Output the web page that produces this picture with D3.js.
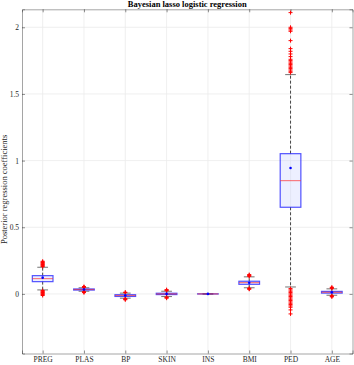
<!DOCTYPE html>
<html><head><meta charset="utf-8">
<script src="https://cdn.jsdelivr.net/npm/d3@7"></script>
<style>body{margin:0;background:#fff}svg{display:block;font-family:"Liberation Serif","DejaVu Serif",serif}</style>
</head><body><svg id="c" width="354" height="365"></svg>
<script>
const categories = ["PREG","PLAS","BP","SKIN","INS","BMI","PED","AGE"];
const q1      = [0.092, 0.029, -0.019, -0.005, -0.0006, 0.072, 0.65, 0.006];
const median  = [0.115, 0.033, -0.012,  0.000,  0.0000, 0.085, 0.85, 0.012];
const q3      = [0.137, 0.037, -0.006,  0.005,  0.0006, 0.095, 1.052, 0.019];
const means   = [0.122, 0.033, -0.012,  0.000,  0.0000, 0.084, 0.945, 0.012];
const whiskLo = [0.030, 0.020, -0.032, -0.020, -0.002, 0.046, 0.052, -0.010];
const whiskHi = [0.200, 0.046,  0.006,  0.020,  0.002, 0.128, 1.645, 0.038];
const outliers = [
  [0.205,0.21,0.215,0.22,0.225,0.23,0.235,0.24,0.245, 0.025,0.02,0.015,0.01,0.005,0.0,-0.005,-0.012],
  [0.05,0.052,0.055,0.016,0.013,0.01],
  [0.01,0.013,-0.036,-0.04,-0.044],
  [0.024,0.028,0.032,-0.024,-0.028,-0.032],
  [],
  [0.132,0.136,0.14,0.145, 0.042,0.038,0.035],
  [1.66,1.67,1.68,1.69,1.70,1.71,1.72,1.73,1.74,1.75,1.76,1.78,1.80,1.82,1.84,1.90,1.97,1.98,1.99,2.00,2.11,
   0.04,0.03,0.02,0.01,0.0,-0.01,-0.02,-0.03,-0.04,-0.05,-0.06,-0.07,-0.08,-0.09,-0.10,-0.12,-0.15],
  [0.042,0.046,0.05,-0.014,-0.018,-0.022]
];
const yTicks = [0, 0.5, 1, 1.5, 2];
const title = "Bayesian lasso logistic regression";
const yLabel = "Posterior regression coefficients";

const svg = d3.select("#c");
const L = 22, R = 352.5, T = 9.3, B = 353.5;
const x = d3.scaleLinear().domain([0.5, 8.5]).range([L, R]);
const y = d3.scaleLinear().domain([-0.447, 2.135]).range([B, T]);
const grid = svg.append("g");
categories.forEach((c,i)=>grid.append("line").attr("x1",x(i+1)).attr("x2",x(i+1)).attr("y1",T).attr("y2",B).attr("stroke","#ebebeb").attr("stroke-width",0.8));
yTicks.forEach(v=>grid.append("line").attr("x1",L).attr("x2",R).attr("y1",y(v)).attr("y2",y(v)).attr("stroke","#ebebeb").attr("stroke-width",0.8));

// axes
const axL = svg.append("g").attr("transform",`translate(${L},0)`).call(d3.axisLeft(y).tickValues(yTicks).tickSize(-3).tickPadding(3).tickFormat(d=>String(d)));
const axR = svg.append("g").attr("transform",`translate(${R},0)`).call(d3.axisRight(y).tickValues(yTicks).tickSize(-3).tickFormat(""));
const axB = svg.append("g").attr("transform",`translate(0,${B})`).call(d3.axisBottom(x).tickValues(categories.map((c,i)=>i+1)).tickSize(-3).tickPadding(3).tickFormat((d,i)=>categories[i]));
const axT = svg.append("g").attr("transform",`translate(0,${T})`).call(d3.axisTop(x).tickValues(categories.map((c,i)=>i+1)).tickSize(-3).tickFormat(""));
[axL,axR,axB,axT].forEach(a=>{
  a.select(".domain").attr("stroke","#262626").attr("stroke-width",0.6).attr("stroke-opacity",0.7);
  a.selectAll(".tick line").attr("stroke","#262626").attr("stroke-width",0.5);
  a.selectAll("text").attr("fill","#262626").attr("font-size",7.5).attr("font-family","Liberation Serif");
});

const hw = 0.25, cw = 0.13;
const g = svg.append("g");
categories.forEach((c,i)=>{
  const cx = x(i+1);
  g.append("line").attr("x1",cx).attr("x2",cx).attr("y1",y(q3[i])).attr("y2",y(whiskHi[i])).attr("stroke","#333").attr("stroke-width",0.9).attr("stroke-dasharray","3,2");
  g.append("line").attr("x1",cx).attr("x2",cx).attr("y1",y(q1[i])).attr("y2",y(whiskLo[i])).attr("stroke","#333").attr("stroke-width",0.9).attr("stroke-dasharray","3,2");
  [whiskHi[i], whiskLo[i]].forEach(v=>g.append("line").attr("x1",x(i+1-cw)).attr("x2",x(i+1+cw)).attr("y1",y(v)).attr("y2",y(v)).attr("stroke","#444").attr("stroke-opacity",0.75).attr("stroke-width",1));
  g.append("rect").attr("x",x(i+1-hw)).attr("width",x(i+1+hw)-x(i+1-hw)).attr("y",y(q3[i])).attr("height",Math.max(0.01,y(q1[i])-y(q3[i])))
    .attr("fill","#ccd5ff").attr("fill-opacity",0.35).attr("stroke","#1a1aff").attr("stroke-opacity",0.75).attr("stroke-width",1.2);
  g.append("line").attr("x1",x(i+1-hw)).attr("x2",x(i+1+hw)).attr("y1",y(median[i])).attr("y2",y(median[i])).attr("stroke","#ff3030").attr("stroke-opacity",0.6).attr("stroke-width",1.2);
  outliers[i].forEach(v=>{
    const py = y(v);
    g.append("path").attr("d",`M${cx-2},${py}H${cx+2}M${cx},${py-2}V${py+2}`).attr("stroke","#ff0000").attr("stroke-width",1);
  });
  g.append("circle").attr("cx",cx).attr("cy",y(means[i])).attr("r",1.3).attr("fill","#0000ff");
});

svg.append("text").attr("x",(L+R)/2).attr("y",7).attr("text-anchor","middle").attr("font-size",8.5).attr("font-weight","bold").attr("fill","#000").text(title);
svg.append("text").attr("transform",`translate(7,${(T+B)/2+8}) rotate(-90)`).attr("text-anchor","middle").attr("font-size",8.5).attr("fill","#262626").text(yLabel);
</script></body></html>
